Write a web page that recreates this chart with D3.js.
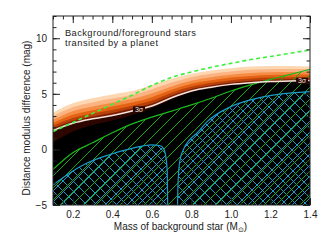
<!DOCTYPE html>
<html>
<head>
<meta charset="utf-8">
<script src="https://cdn.jsdelivr.net/npm/d3@7"></script>
<style>
  body { margin: 0; background: #fff; }
  text { font-family: "Liberation Sans", Arial, sans-serif; }
</style>
</head>
<body>
<div id="root"></div>
<script>
// mass grid (Msun) the contours are read at
var masses = [0.1, 0.2, 0.3, 0.4, 0.5, 0.6, 0.7, 0.8, 0.9, 1.0, 1.1, 1.2, 1.3, 1.4];
// shaded contour levels, top edge of each colour band (mag)
var band0 = [3.3, 4.15, 4.6, 4.95, 5.25, 5.8, 6.35, 6.8, 7.1, 7.3, 7.45, 7.5, 7.5, 7.45];
var band1 = [2.98, 3.79, 4.23, 4.57, 4.89, 5.42, 6.01, 6.49, 6.8, 7.01, 7.16, 7.22, 7.23, 7.2];
var band2 = [2.66, 3.43, 3.86, 4.19, 4.53, 5.04, 5.67, 6.18, 6.5, 6.72, 6.87, 6.94, 6.96, 6.95];
var band3 = [2.37, 3.11, 3.53, 3.85, 4.21, 4.7, 5.36, 5.9, 6.23, 6.46, 6.61, 6.69, 6.72, 6.73];
var band4 = [2.12, 2.82, 3.23, 3.54, 3.92, 4.39, 5.09, 5.65, 5.99, 6.23, 6.38, 6.46, 6.5, 6.53];
var band5 = [1.89, 2.57, 2.97, 3.28, 3.67, 4.13, 4.85, 5.44, 5.78, 6.02, 6.17, 6.27, 6.31, 6.35];
var sigma3 = [1.7, 2.35, 2.75, 3.05, 3.45, 3.9, 4.65, 5.25, 5.6, 5.85, 6.0, 6.1, 6.15, 6.2];
var blackTop = [0.6, 1.6, 2.2, 2.6, 3.1, 3.7, 4.5, 5.15, 5.5, 5.75, 5.9, 6.0, 6.05, 6.1];
// green dashed limit and green hatched region
var dashedLimit = [1.6, 2.42, 3.24, 4.06, 4.88, 5.75, 6.48, 6.97, 7.38, 7.74, 8.08, 8.36, 8.65, 8.95];
var greenLimit = [-1.8, -0.3, 0.6, 1.5, 2.3, 2.9, 3.45, 4.0, 4.6, 5.25, 5.8, 6.3, 6.75, 7.2];
// cyan cross-hatched regions
var leftBlobMass = [0.1, 0.17, 0.27, 0.38, 0.5, 0.6, 0.64, 0.66, 0.672, 0.678, 0.68];
var leftBlobMag = [-3.2, -2.3, -1.25, -0.5, 0.1, 0.4, 0.35, 0.05, -0.8, -2.0, -5];
var rightBlobMass = [0.73, 0.733, 0.742, 0.76, 0.79, 0.83, 0.88, 1.0, 1.17, 1.4];
var rightBlobMag = [-5, -2.8, -1.0, 0.0, 0.85, 1.5, 2.5, 3.85, 4.75, 5.2];
// ticks
var xTicks = [0.2, 0.4, 0.6, 0.8, 1.0, 1.2, 1.4];
var yTicks = [-5, 0, 5, 10];
var sigmaLabelMass = [0.535, 1.36];

var bandColors = ["#fdd6b2", "#fbb481", "#f58c45", "#e46214", "#b8400b", "#7a1f03", "#2e0600", "#000000"];
var green = "#14aa14", cyan = "#1a9cc6";

var w = 327, h = 240;
var margin = { top: 16, right: 17, bottom: 35, left: 53 };
var x0 = margin.left, x1 = w - margin.right, y0 = margin.top, y1 = h - margin.bottom;

var xScale = d3.scaleLinear().domain([0.1, 1.4]).range([x0, x1]);
var yScale = d3.scaleLinear().domain([-5, 12]).range([y1, y0]);

var svg = d3.select("#root").append("svg").attr("width", w).attr("height", h);
svg.append("rect").attr("width", w).attr("height", h).attr("fill", "white");

var defs = svg.append("defs");
defs.append("clipPath").attr("id", "plotclip").append("rect")
  .attr("x", x0).attr("y", y0).attr("width", x1 - x0).attr("height", y1 - y0);

var plot = svg.append("g").attr("clip-path", "url(#plotclip)");

function zipM(vals) {
  return masses.map(function(m, i) { return [m, vals[i]]; });
}
var area = d3.area().x(function(d) { return xScale(d[0]); })
  .y0(yScale(-5)).y1(function(d) { return yScale(d[1]); }).curve(d3.curveMonotoneX);
var line = d3.line().x(function(d) { return xScale(d[0]); })
  .y(function(d) { return yScale(d[1]); }).curve(d3.curveMonotoneX);

// colour bands, lightest first, black last
var bands = [band0, band1, band2, band3, band4, band5, sigma3, blackTop];
bands.forEach(function(b, i) {
  plot.append("path").attr("d", area(zipM(b))).attr("fill", bandColors[i]);
});

// clip regions for the hatching
var leftBlob = leftBlobMass.map(function(m, i) { return [m, leftBlobMag[i]]; });
var rightBlob = rightBlobMass.map(function(m, i) { return [m, rightBlobMag[i]]; });
defs.append("clipPath").attr("id", "greenclip").append("path").attr("d", area(zipM(greenLimit)));
var cclip = defs.append("clipPath").attr("id", "cyanclip");
cclip.append("path").attr("d", area(leftBlob));
cclip.append("path").attr("d", area(rightBlob));

// diagonal hatch lines, dir 1 = "/", -1 = "\"
function hatch(clipId, step, dir, offset, color) {
  var H = y1 - y0;
  var starts = d3.range(x0 - H - 20 + offset, x1 + H + 20, step);
  var g = plot.append("g").attr("clip-path", "url(#" + clipId + ")");
  g.selectAll("line").data(starts).enter().append("line")
    .attr("x1", function(d) { return d; }).attr("y1", y1)
    .attr("x2", function(d) { return d + dir * H; }).attr("y2", y0)
    .attr("stroke", color).attr("stroke-width", 1).attr("shape-rendering", "crispEdges");
}
hatch("cyanclip", 10, -1, 3, cyan);
hatch("cyanclip", 11, 1, 8, cyan);
hatch("greenclip", 12, 1, 0, green);

// cyan outlines
[leftBlob, rightBlob].forEach(function(b) {
  plot.append("path").attr("d", line(b)).attr("fill", "none").attr("stroke", cyan).attr("stroke-width", 1.2);
});

// green solid limit
plot.append("path").attr("d", line(zipM(greenLimit))).attr("fill", "none")
  .attr("stroke", "#1cb81c").attr("stroke-width", 1.2);

// 3 sigma line
plot.append("path").attr("d", line(zipM(sigma3))).attr("fill", "none")
  .attr("stroke", "#f6e4dc").attr("stroke-width", 1.5);
sigmaLabelMass.forEach(function(m) {
  var i = d3.bisectLeft(masses, m);
  var t = (m - masses[i - 1]) / (masses[i] - masses[i - 1]);
  var val = sigma3[i - 1] + t * (sigma3[i] - sigma3[i - 1]);
  var px = xScale(m), py = yScale(val);
  plot.append("rect").attr("x", px - 6).attr("y", py - 3).attr("width", 12).attr("height", 6).attr("fill", "#2a0500");
  plot.append("text").attr("x", px).attr("y", py + 2.5).attr("text-anchor", "middle")
    .style("font-size", "7px").attr("fill", "#f6e4dc").text("3σ");
});

// green dashed limit
plot.append("path").attr("d", line(zipM(dashedLimit))).attr("fill", "none")
  .attr("stroke", "#3cf03c").attr("stroke-width", 1.6).attr("stroke-dasharray", "4,3");

// frame
svg.append("rect").attr("x", x0).attr("y", y0).attr("width", x1 - x0).attr("height", y1 - y0)
  .attr("fill", "none").attr("stroke", "#222").attr("stroke-width", 1);

// axes, ticks pointing inward
var xMinor = d3.range(0.1, 1.4001, 0.05);
var yMinor = d3.range(-5, 12.001, 1);
function axisSet(axisFn, scale, pos, major, minor, labels) {
  var gMin = svg.append("g").attr("transform", pos)
    .call(axisFn(scale).tickValues(minor).tickSize(-3.5).tickFormat(""));
  var gMaj = svg.append("g").attr("transform", pos)
    .call(axisFn(scale).tickValues(major).tickSize(-7).tickPadding(labels ? 6 : 0)
      .tickFormat(labels ? labels : ""));
  [gMin, gMaj].forEach(function(g) {
    g.select(".domain").remove();
    g.selectAll("line").attr("stroke", "#222");
    g.selectAll("text").attr("fill", "#222").style("font-size", "10px")
      .style("font-family", "'Liberation Sans', Arial, sans-serif");
  });
}
axisSet(d3.axisBottom, xScale, "translate(0," + y1 + ")", xTicks, xMinor, d3.format(".1f"));
axisSet(d3.axisTop, xScale, "translate(0," + y0 + ")", xTicks, xMinor, null);
axisSet(d3.axisLeft, yScale, "translate(" + x0 + ",0)", yTicks, yMinor, d3.format("d"));
axisSet(d3.axisRight, yScale, "translate(" + x1 + ",0)", yTicks, yMinor, null);

// axis titles
var xl = svg.append("text").attr("x", (x0 + x1) / 2 - 1).attr("y", 230).attr("text-anchor", "middle")
  .style("font-size", "10px").attr("fill", "#222");
xl.append("tspan").text("Mass of background star (M");
xl.append("tspan").text("⊙").style("font-size", "7px").attr("dy", 2);
xl.append("tspan").text(")").attr("dy", -2);
svg.append("text").attr("transform", "translate(30," + 118 + ") rotate(-90)")
  .attr("text-anchor", "middle").style("font-size", "10px").attr("fill", "#222")
  .text("Distance modulus difference (mag)");

// note
svg.append("text").attr("x", 65).attr("y", 35.5).style("font-size", "9.3px").attr("fill", "#222")
  .attr("textLength", 131).attr("lengthAdjust", "spacing")
  .text("Background/foreground stars");
svg.append("text").attr("x", 65).attr("y", 46).style("font-size", "9.3px").attr("fill", "#222")
  .attr("textLength", 93).attr("lengthAdjust", "spacing")
  .text("transited by a planet");
</script>
</body>
</html>
